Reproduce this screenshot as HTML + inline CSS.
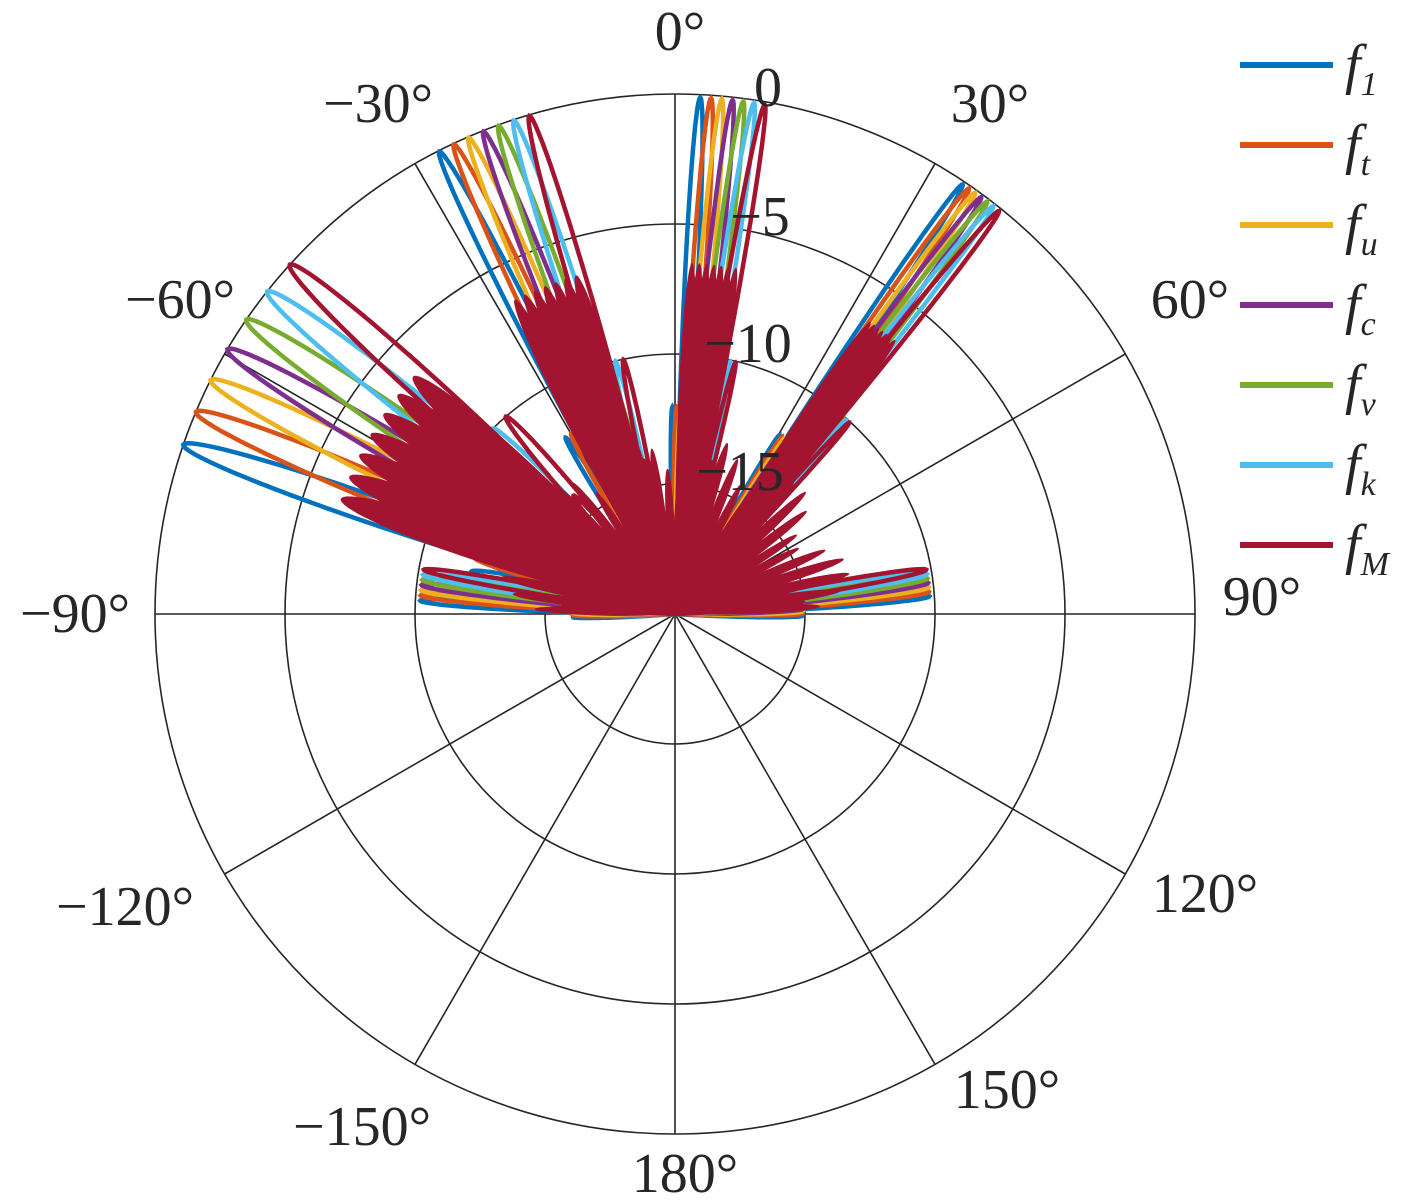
<!DOCTYPE html>
<html><head><meta charset="utf-8"><style>
body{margin:0;background:#fff}
svg text{font-family:"Liberation Serif",serif;fill:#262626}
</style></head><body>
<svg id="s" width="1417" height="1198" viewBox="0 0 1417 1198" xmlns="http://www.w3.org/2000/svg">
<g fill="none" stroke="#262626" stroke-width="1.6">
<circle cx="675" cy="614" r="520"/><circle cx="675" cy="614" r="390"/><circle cx="675" cy="614" r="260"/><circle cx="675" cy="614" r="130"/>
</g>
<g id="spokes" stroke="#262626" stroke-width="1.6"></g>
<g id="data"></g>
<g font-size="56" text-anchor="middle">
<text x="680" y="50">0°</text>
<text x="378" y="122">−30°</text><text x="990" y="122">30°</text>
<text x="180" y="318">−60°</text><text x="1190" y="318">60°</text>
<text x="75" y="632">−90°</text><text x="1262" y="615">90°</text>
<text x="125" y="925">−120°</text><text x="1205" y="912">120°</text>
<text x="362" y="1145">−150°</text><text x="1007" y="1108">150°</text>
<text x="685" y="1192">180°</text>
<text x="768" y="106">0</text><text x="760" y="235">−5</text><text x="748" y="362">−10</text><text x="740" y="490">−15</text>
</g>
<g id="leg" stroke-width="6"></g>
</svg>
<script>
var NS="http://www.w3.org/2000/svg",cx=675,cy=614;
var sp=document.getElementById('spokes');
for(var a=0;a<360;a+=30){var t=a*Math.PI/180;var l=document.createElementNS(NS,'line');
l.setAttribute('x1',cx);l.setAttribute('y1',cy);l.setAttribute('x2',cx+520*Math.sin(t));l.setAttribute('y2',cy-520*Math.cos(t));sp.appendChild(l);}
var cols=['#0072BD','#D95319','#EDB120','#7E2F8E','#77AC30','#4DBEEE','#A2142F'];
var labs=['1','t','u','c','v','k','M'];
var beams=[[2.8,10,2.2,517],[-27,-16.3,3,519],[33.8,38.8,2.2,517],[-71,-47.8,4.5,520],[-87,-80,3,255],[86,80,3,255]];
var d=document.getElementById('data');
function petal(a0,hw,L){var p='M'+cx+' '+cy;for(var i=0;i<=60;i++){var th=a0-hw+2*hw*i/60;var c=Math.max(0,Math.cos((th-a0)/hw*Math.PI/2));var r=L*Math.pow(c,1.2);var t=th*Math.PI/180;p+=' L'+(cx+r*Math.sin(t)).toFixed(1)+' '+(cy-r*Math.cos(t)).toFixed(1);}return p+'Z';}
for(var s=0;s<7;s++){var g=document.createElementNS(NS,'g');g.setAttribute('fill','none');g.setAttribute('stroke',cols[s]);g.setAttribute('stroke-width','4.5');
beams.forEach(function(b){var a=b[0]+(b[1]-b[0])*s/6;
var p=document.createElementNS(NS,'path');p.setAttribute('d',petal(a,b[2],b[3]));g.appendChild(p);
for(var k=1;k<4;k++){var q=document.createElementNS(NS,'path');q.setAttribute('d',petal(a+(k%2?1:-1)*b[2]*1.6,b[2]*0.9,b[3]*(0.6-0.1*k)));g.appendChild(q);}
});d.appendChild(g);}
var f=document.createElementNS(NS,'g');f.setAttribute('fill','#A2142F');
beams.forEach(function(b,bi){var Lf=bi<4?0.68:0.45;for(var k=0;k<7;k++){var a=b[0]+(b[1]-b[0])*(k/6);var p=document.createElementNS(NS,'path');p.setAttribute('d',petal(a,b[2]*1.6,b[3]*Lf));f.appendChild(p);}});
for(var a=-88;a<=88;a+=5){var p=document.createElementNS(NS,'path');p.setAttribute('d',petal(a,5,130+50*Math.abs(Math.sin(a*Math.PI/30))));f.appendChild(p);}
d.appendChild(f);
var lg=document.getElementById('leg');
for(var s=0;s<7;s++){var y=65+80*s;var l=document.createElementNS(NS,'line');l.setAttribute('x1',1240);l.setAttribute('x2',1333);l.setAttribute('y1',y);l.setAttribute('y2',y);l.setAttribute('stroke',cols[s]);lg.appendChild(l);
var t=document.createElementNS(NS,'text');t.setAttribute('x',1345);t.setAttribute('y',y+18);t.setAttribute('font-size','56');t.setAttribute('font-style','italic');t.setAttribute('stroke','none');
t.innerHTML='f<tspan font-size="34" dy="12">'+labs[s]+'</tspan>';lg.appendChild(t);}
</script>
</body></html>
